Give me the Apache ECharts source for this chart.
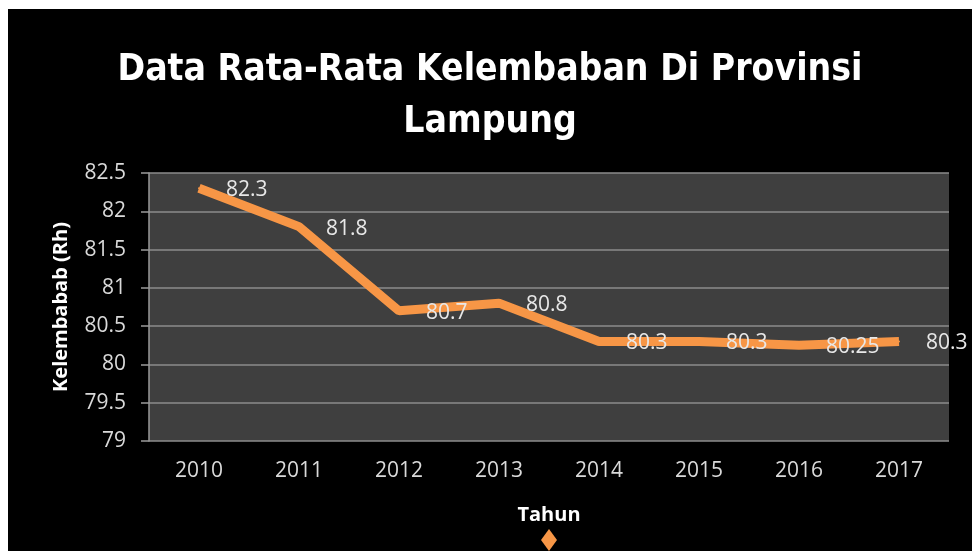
<!DOCTYPE html>
<html>
<head>
  <meta charset="utf-8">
</head>
<body style="margin: 0; background: #ffffff">
  <div id="container" style="position:absolute; left:8px; top:9px; width:964px; height:542px"></div>

  <script type="text/javascript" src="https://cdn.jsdelivr.net/npm/echarts@6/dist/echarts.min.js"></script>
  <script type="text/javascript">
    // data
    var years = ['2010', '2011', '2012', '2013', '2014', '2015', '2016', '2017'];
    var humidity = [82.3, 81.8, 80.7, 80.8, 80.3, 80.3, 80.25, 80.3];
    var yTicks = { min: 79, max: 82.5, step: 0.5 };

    var narrow = '"DejaVu Sans Condensed", sans-serif';
    var plain = '"Open Sans", sans-serif';

    var myChart = echarts.init(document.getElementById('container'), null, { renderer: 'canvas' });

    var option = {
      backgroundColor: '#000000',
      animation: false,
      title: {
        text: 'Data Rata-Rata Kelembaban Di Provinsi\nLampung',
        left: 'center',
        top: 30,
        textStyle: {
          color: '#ffffff',
          fontFamily: narrow,
          fontWeight: 'bold',
          fontSize: 37,
          lineHeight: 52
        }
      },
      legend: {
        left: 528,
        bottom: -5,
        icon: 'diamond',
        itemWidth: 16,
        itemHeight: 22,
        formatter: function () { return ''; },
        data: ['Kelembaban']
      },
      grid: {
        left: 141,
        top: 164,
        width: 800,
        height: 268,
        show: true,
        backgroundColor: '#3f3f3f',
        borderWidth: 0
      },
      xAxis: {
        type: 'category',
        data: years,
        boundaryGap: true,
        name: 'Tahun',
        nameLocation: 'middle',
        nameGap: 64,
        nameTextStyle: { color: '#ffffff', fontWeight: 'bold', fontSize: 20, fontFamily: plain },
        axisLine: { show: false },
        axisTick: { show: false },
        axisLabel: { color: '#d9d9d9', fontSize: 21, fontFamily: plain, margin: 20 }
      },
      yAxis: {
        type: 'value',
        min: yTicks.min,
        max: yTicks.max,
        interval: yTicks.step,
        name: 'Kelembabab (Rh)',
        nameLocation: 'middle',
        nameRotate: 90,
        nameGap: 78,
        nameTextStyle: { color: '#ffffff', fontWeight: 'bold', fontSize: 20, fontFamily: plain },
        axisLine: { show: true, lineStyle: { color: '#9a9a9a', width: 1.5 } },
        axisTick: { show: true, length: 8, lineStyle: { color: '#9a9a9a', width: 1.5 } },
        axisLabel: { color: '#d9d9d9', fontSize: 21, fontFamily: plain, margin: 23 },
        splitLine: { lineStyle: { color: '#8c8c8c', width: 1.5 } }
      },
      series: [
        {
          name: 'Kelembaban',
          type: 'line',
          data: humidity,
          symbol: 'circle',
          symbolSize: 2,
          showSymbol: true,
          itemStyle: { color: '#f79646' },
          lineStyle: { color: '#f79646', width: 9 },
          label: {
            show: true,
            position: 'right',
            distance: 26,
            offset: [0, 2],
            color: '#e8e8e8',
            fontSize: 21,
            fontFamily: plain
          }
        }
      ]
    };

    myChart.setOption(option);
    window.addEventListener('resize', myChart.resize);
  </script>
</body>
</html>
